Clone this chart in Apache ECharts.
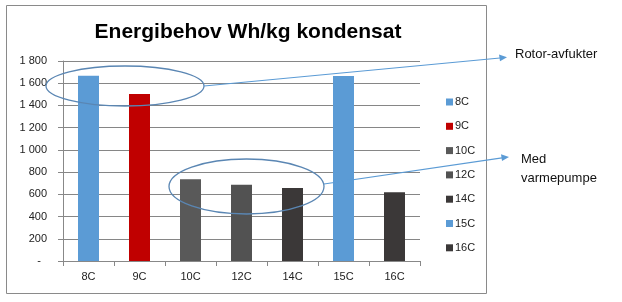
<!DOCTYPE html>
<html><head><meta charset="utf-8">
<script src="https://cdn.jsdelivr.net/npm/echarts@6/dist/echarts.min.js"></script>
<style>html,body{margin:0;padding:0;background:#fff}#c{width:622px;height:302px}</style>
</head><body><div id="c"></div>
<script>
var categories = ['8C','9C','10C','12C','14C','15C','16C'];
var values = [1668, 1503, 736, 686, 656, 1666, 618];
var colors = ['#5B9BD5','#C00000','#595959','#525252','#3B3838','#5B9BD5','#3B3838'];
var yTicks = [0,200,400,600,800,1000,1200,1400,1600,1800];
var titleText = 'Energibehov Wh/kg kondensat';
var note1 = 'Rotor-avfukter';
var note2 = 'Med\nvarmepumpe';

var font = '"Liberation Sans", Arial, sans-serif';
var series = categories.map(function(c, i){
  return {
    name: c, type: 'bar', stack: 'all', barWidth: 21,
    itemStyle: {color: colors[i]},
    data: categories.map(function(_, j){ return j === i ? values[i] : '-'; })
  };
});
function fmt(v){ if (v === 0) return '-  '; return String(v).replace(/\B(?=(\d{3})+(?!\d))/g, ' '); }

var chart = echarts.init(document.getElementById('c'), null, {renderer:'canvas'});
chart.setOption({
  animation: false,
  textStyle: {fontFamily: font},
  title: {text: titleText, left: 243, top: 17, textAlign: 'center',
    textStyle: {fontSize: 21, fontWeight: 'bold', color: '#000', fontFamily: font}},
  grid: {left: 63, right: 202, top: 61, bottom: 41},
  legend: {
    orient: 'vertical', left: 441, top: 90, icon: 'rect', itemWidth: 7, itemHeight: 7,
    itemGap: 10.3, data: categories,
    textStyle: {fontSize: 11, color: '#222', lineHeight: 14, padding: [0,0,0,-3]}
  },
  xAxis: {
    type: 'category', data: categories,
    axisLine: {lineStyle: {color: '#888'}},
    axisTick: {show: true, length: 5, lineStyle: {color: '#888'}},
    axisLabel: {fontSize: 11, color: '#222', margin: 10}
  },
  yAxis: {
    type: 'value', min: 0, max: 1800, interval: 200,
    axisLine: {show: true, lineStyle: {color: '#888'}},
    axisTick: {show: true, length: 5, lineStyle: {color: '#888'}},
    splitLine: {lineStyle: {color: '#868686'}},
    axisLabel: {fontSize: 11, color: '#222', margin: 16, formatter: fmt}
  },
  series: series,
  graphic: [
    {type: 'rect', shape: {x: 6.5, y: 5.5, width: 480, height: 288}, style: {fill: 'none', stroke: '#8a8a8a', lineWidth: 1}, z: 0, silent: true},
    {type: 'ellipse', shape: {cx: 125, cy: 86, rx: 79, ry: 20}, style: {fill: 'none', stroke: '#5A86B3', lineWidth: 1.3}, z: 100},
    {type: 'ellipse', shape: {cx: 246.5, cy: 186.5, rx: 77.5, ry: 27.5}, style: {fill: 'none', stroke: '#5A86B3', lineWidth: 1.3}, z: 100},
    {type: 'line', shape: {x1: 204, y1: 86, x2: 500, y2: 58}, style: {stroke: '#5B9BD5', lineWidth: 1.2}, z: 100},
    {type: 'polygon', shape: {points: [[507,57.3],[499,54.5],[500,61.3]]}, style: {fill: '#5B9BD5'}, z: 100},
    {type: 'line', shape: {x1: 324, y1: 184, x2: 502, y2: 157.8}, style: {stroke: '#5B9BD5', lineWidth: 1.2}, z: 100},
    {type: 'polygon', shape: {points: [[509,157],[501,154.2],[502,161]]}, style: {fill: '#5B9BD5'}, z: 100},
    {type: 'text', left: 515, top: 48, style: {text: note1, font: '13px ' + font, fill: '#111'}},
    {type: 'text', left: 521, top: 150, style: {text: note2, font: '13px ' + font, fill: '#111', lineHeight: 19}}
  ]
});
</script></body></html>
